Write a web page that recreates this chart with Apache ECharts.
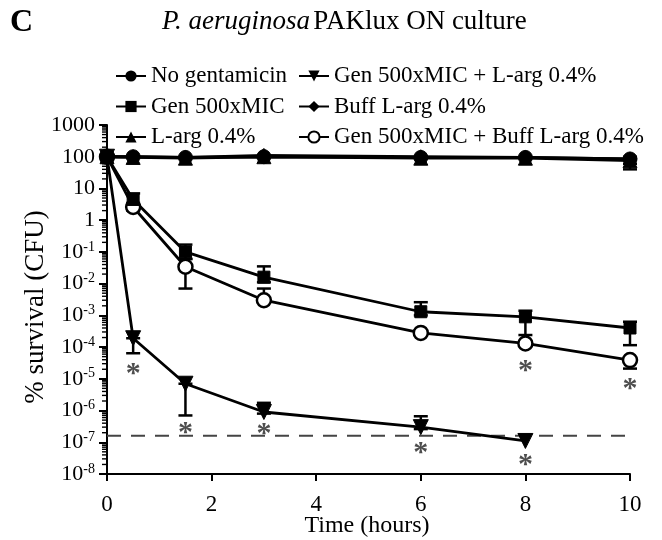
<!DOCTYPE html>
<html>
<head>
<meta charset="utf-8">
<script src="https://cdn.jsdelivr.net/npm/echarts@6/dist/echarts.min.js"></script>
<style>html,body{margin:0;padding:0;background:#fff;}#c{width:662px;height:540px;}</style>
</head>
<body>
<div id="c"></div>
<script>
// ---- data ----
const times = [0, 0.5, 1.5, 3, 6, 8, 10];
const noGent   = [100, 100, 95, 100, 95, 95, 85];
const gen      = [100, 4.5, 0.1, 0.016, 1.3e-3, 9e-4, 4e-4];
const lArg     = [100, 95, 90, 100, 90, 90, 75];
const genLArg  = [100, 1.9e-4, 7e-6, 9e-7, 3e-7, 1.1e-7, null];
const buffLArg = [100, 100, 95, 110, 100, 95, 85];
const genBuff  = [100, 2.6, 0.034, 3e-3, 2.8e-4, 1.3e-4, 3.9e-5];

// error bars: [low, high] per time point (null = none visible)
const genErr     = [null, [3, 7], [0.06, 0.17], [0.011, 0.035], [1.0e-3, 2.6e-3], [2.4e-4, 1.4e-3], [1.15e-4, 6.3e-4]];
const genBuffErr = [null, [2.0, 3.5], [7e-3, 0.06], [2.5e-3, 7e-3], [2.4e-4, 3.2e-4], [1.1e-4, 1.5e-4], [2.1e-5, 3.9e-5]];
const genLArgErr = [null, [6.4e-5, 1.9e-4], [7e-7, 7e-6], [8e-7, 1.75e-6], [2.6e-7, 6.6e-7], null, null];
const noGentErr  = [null, null, null, null, null, null, [60, 100]];
const lArgErr    = [null, null, null, null, null, null, [40, 80]];

const detectionLimit = 1.6e-7;
const asterisks = [[0.5, 2.1e-5], [1.5, 3e-7], [3, 2.8e-7], [6, 7e-8], [8, 2.9e-8], [8, 2.7e-5], [10, 7.2e-6]];

const names = ['No gentamicin', 'Gen 500xMIC', 'L-arg 0.4%', 'Gen 500xMIC + L-arg 0.4%', 'Buff L-arg 0.4%', 'Gen 500xMIC + Buff L-arg 0.4%'];
const yMinExp = -8, yMaxExp = 3;

// ---- helpers ----
const FONT = '"Liberation Serif", "Times New Roman", serif';
function pairs(vals) { return times.map((t, i) => vals[i] == null ? null : [t, vals[i]]).filter(Boolean); }
function errData(errs) { return times.map((t, i) => errs[i] ? [t, errs[i][0], errs[i][1]] : null).filter(Boolean); }
function errSeries(errs) {
  return {
    type: 'custom', silent: true, z: 1,
    data: errData(errs),
    encode: { x: 0, y: [1, 2] },
    renderItem: function (params, api) {
      const x = api.value(0);
      const lo = api.coord([x, api.value(1)]);
      const hi = api.coord([x, api.value(2)]);
      const w = 7;
      const st = { stroke: '#000', lineWidth: 2.5 };
      return { type: 'group', children: [
        { type: 'line', shape: { x1: lo[0], y1: lo[1], x2: hi[0], y2: hi[1] }, style: st },
        { type: 'line', shape: { x1: lo[0] - w, y1: lo[1], x2: lo[0] + w, y2: lo[1] }, style: st },
        { type: 'line', shape: { x1: hi[0] - w, y1: hi[1], x2: hi[0] + w, y2: hi[1] }, style: st }
      ]};
    }
  };
}
function lineSeries(name, vals, symbol, size, extra) {
  return Object.assign({
    name: name, type: 'line', data: pairs(vals), symbol: symbol, symbolSize: size,
    lineStyle: { color: '#000', width: 2.8 },
    itemStyle: { color: '#000', borderColor: '#000' },
    z: 3, showAllSymbols: true
  }, extra || {});
}

// minor tick values on log axis (2..9 x 10^k)
const minorTickValues = [];
for (let e = yMinExp; e < yMaxExp; e++) for (let m = 2; m <= 9; m++) minorTickValues.push(m * Math.pow(10, e));

const chart = echarts.init(document.getElementById('c'), null, { renderer: 'canvas' });
const legendText = { fontFamily: FONT, fontSize: 23, color: '#000', lineHeight: 24 };
chart.setOption({
  animation: false,
  textStyle: { fontFamily: FONT },
  grid: { left: 107, right: 32, top: 125, bottom: 66, containLabel: false, outerBoundsMode: 'none' },
  graphic: [
    { type: 'text', left: 10, top: 7, style: { text: 'C', font: 'bold 32px ' + FONT, fill: '#000' } },
    { type: 'text', left: 162, top: 8, style: {
        text: '{i|P. aeruginosa} {n|PAKlux ON culture}',
        rich: { i: { fontFamily: FONT, fontSize: 27, fontStyle: 'italic', fill: '#000' }, n: { fontFamily: FONT, fontSize: 27, fill: '#000' } } } },
    { type: 'text', x: 36, y: 307, rotation: Math.PI / 2, style: {
        text: '% survival (CFU)', font: '27px ' + FONT, fill: '#000', align: 'center', verticalAlign: 'middle' } },
    { type: 'text', x: 367, y: 526, style: {
        text: 'Time (hours)', font: '24px ' + FONT, fill: '#000', align: 'center', verticalAlign: 'middle' } }
  ],
  legend: [
    { data: names.slice(0, 3), orient: 'vertical', left: 110, top: 59, itemWidth: 30, itemHeight: 14, itemGap: 6.5,
      textStyle: legendText, selectedMode: false },
    { data: names.slice(3), orient: 'vertical', left: 293, top: 59, itemWidth: 30, itemHeight: 14, itemGap: 6.5,
      textStyle: legendText, selectedMode: false }
  ],
  xAxis: {
    type: 'value', min: 0, max: 10, interval: 2,
    axisLine: { show: true, onZero: false, lineStyle: { color: '#000', width: 2 } },
    axisTick: { show: true, inside: false, length: 7, lineStyle: { color: '#000', width: 2 } },
    axisLabel: { fontFamily: FONT, fontSize: 23, color: '#000', margin: 19 },
    splitLine: { show: false }
  },
  yAxis: {
    type: 'log', logBase: 10, min: Math.pow(10, yMinExp), max: Math.pow(10, yMaxExp), interval: 1,
    axisLine: { show: true, lineStyle: { color: '#000', width: 2 } },
    axisTick: { show: true, inside: false, length: 8, lineStyle: { color: '#000', width: 2 } },
    splitLine: { show: false },
    axisLabel: {
      color: '#000', margin: 12, fontFamily: FONT, fontSize: 22,
      formatter: function (v) {
        const e = Math.round(Math.log10(v));
        if (e >= 0) return '{b|' + String(Math.pow(10, e)) + '}';
        return '{b|10}{s|' + e + '}';
      },
      rich: {
        b: { fontFamily: FONT, fontSize: 22, color: '#000', lineHeight: 24 },
        s: { fontFamily: FONT, fontSize: 14, color: '#000', verticalAlign: 'top', lineHeight: 15 }
      }
    }
  },
  series: [
    {
      type: 'custom', silent: true, z: 5, data: [[5, 1]], encode: { x: 0, y: 1 },
      renderItem: function (params, api) {
        const children = minorTickValues.map(function (v) {
          const p = api.coord([0, v]);
          return { type: 'line', shape: { x1: p[0] - 5, y1: p[1], x2: p[0], y2: p[1] }, style: { stroke: '#000', lineWidth: 1.4 } };
        });
        return { type: 'group', children: children };
      }
    },
    errSeries(genErr), errSeries(genBuffErr), errSeries(genLArgErr), errSeries(noGentErr), errSeries(lArgErr),
    lineSeries(names[3], genLArg, 'triangle', 15, { symbolRotate: 180 }),
    lineSeries(names[5], genBuff, 'circle', 14, { itemStyle: { color: '#fff', borderColor: '#000', borderWidth: 2.5 } }),
    lineSeries(names[1], gen, 'rect', 12),
    lineSeries(names[2], lArg, 'triangle', 14),
    lineSeries(names[4], buffLArg, 'diamond', 14),
    lineSeries(names[0], noGent, 'circle', 14),
    {
      type: 'line', silent: true, symbol: 'none', z: 2,
      data: [[0, detectionLimit], [10, detectionLimit]],
      lineStyle: { color: '#444', width: 2, type: [14, 10] }
    },
    {
      type: 'scatter', silent: true, z: 4, data: asterisks, symbolSize: 1, itemStyle: { color: 'rgba(0,0,0,0)' },
      label: { show: true, position: 'inside', formatter: '*', fontFamily: FONT, fontSize: 30, fontWeight: 'bold', color: '#222', offset: [0, 6] }
    }
  ]
});
</script>
</body>
</html>
